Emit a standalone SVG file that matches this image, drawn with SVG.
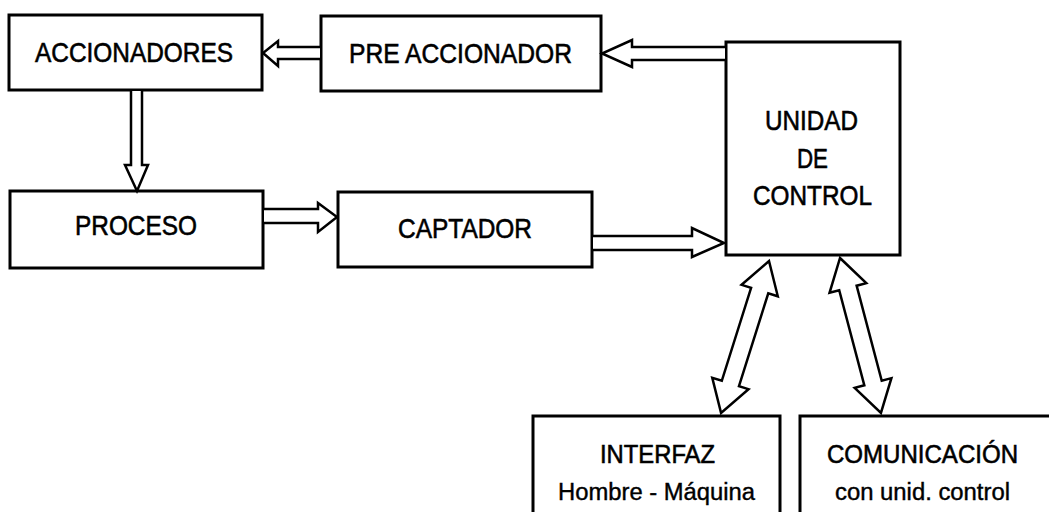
<svg xmlns="http://www.w3.org/2000/svg" width="1049" height="512" viewBox="0 0 1049 512">
  <style>
    .box { fill: #ffffff; stroke: #000000; stroke-width: 3; }
    .lbl { font-family: "Liberation Sans", Arial, sans-serif; font-size: 28px; fill: #000000; stroke: #000000; stroke-width: 0.6; text-anchor: middle; }
    .big { font-size: 26px; }
    .sub { font-size: 23px; stroke-width: 0.4; }
    .arr { fill: #ffffff; stroke: #000000; stroke-width: 2.5; stroke-linejoin: miter; }
  </style>
  <rect x="0" y="0" width="1049" height="512" fill="#ffffff"/>

  <g id="accionadores">
    <rect class="box" x="9" y="15" width="253" height="75"/>
    <text class="lbl" x="134" y="62" textLength="198" lengthAdjust="spacingAndGlyphs">ACCIONADORES</text>
  </g>

  <g id="pre-accionador">
    <rect class="box" x="321" y="16" width="280" height="75"/>
    <text class="lbl" x="460.5" y="63" textLength="223" lengthAdjust="spacingAndGlyphs">PRE ACCIONADOR</text>
  </g>

  <g id="unidad-control">
    <rect class="box" x="726" y="42" width="174" height="213"/>
    <text class="lbl" x="811.5" y="130" textLength="93" lengthAdjust="spacingAndGlyphs">UNIDAD</text>
    <text class="lbl" x="812.5" y="168" textLength="31" lengthAdjust="spacingAndGlyphs">DE</text>
    <text class="lbl" x="812.5" y="205" textLength="119" lengthAdjust="spacingAndGlyphs">CONTROL</text>
  </g>

  <g id="proceso">
    <rect class="box" x="10" y="191" width="253" height="77"/>
    <text class="lbl" x="136" y="235" textLength="122" lengthAdjust="spacingAndGlyphs">PROCESO</text>
  </g>

  <g id="captador">
    <rect class="box" x="338" y="192" width="254" height="75"/>
    <text class="lbl" x="465" y="238" textLength="134" lengthAdjust="spacingAndGlyphs">CAPTADOR</text>
  </g>

  <g id="interfaz">
    <rect class="box" x="533" y="416" width="247" height="120"/>
    <text class="lbl big" x="657.5" y="463" textLength="115" lengthAdjust="spacingAndGlyphs">INTERFAZ</text>
    <text class="lbl sub" x="656.5" y="500" textLength="197" lengthAdjust="spacingAndGlyphs">Hombre - Máquina</text>
  </g>

  <g id="comunicacion">
    <rect class="box" x="800" y="416" width="262" height="120"/>
    <text class="lbl big" x="922.5" y="463" textLength="191" lengthAdjust="spacingAndGlyphs">COMUNICACIÓN</text>
    <text class="lbl sub" x="922.5" y="500" textLength="175" lengthAdjust="spacingAndGlyphs">con unid. control</text>
  </g>

  <g id="connectors">
    <!-- unidad de control -> pre accionador -->
    <path class="arr" d="M725,47 H632 V40 L602,53.5 L632,67 V60 H725"/>
    <!-- pre accionador -> accionadores -->
    <path class="arr" d="M320,47 H278 V41 L263,53 L278,66 V59 H320"/>
    <!-- accionadores -> proceso -->
    <path class="arr" d="M131,91 V165 H125 L137,191 L148,165 H142 V91"/>
    <!-- proceso -> captador -->
    <path class="arr" d="M264,209 H318 V203 L337,217 L318,232 V223 H264"/>
    <!-- captador -> unidad de control -->
    <path class="arr" d="M593,236 H692 V228 L724,243 L692,257 V250 H593"/>
    <!-- unidad de control <-> interfaz -->
    <path class="arr" transform="translate(769,261) rotate(107.5)" d="M0,0 L31,-19 L31,-9 L128.4,-9 L128.4,-19 L159.4,0 L128.4,19 L128.4,9 L31,9 L31,19 Z"/>
    <!-- unidad de control <-> comunicacion -->
    <path class="arr" transform="translate(840,258) rotate(75.2)" d="M0,0 L31,-19 L31,-9 L129.3,-9 L129.3,-19 L160.3,0 L129.3,19 L129.3,9 L31,9 L31,19 Z"/>
  </g>
</svg>
